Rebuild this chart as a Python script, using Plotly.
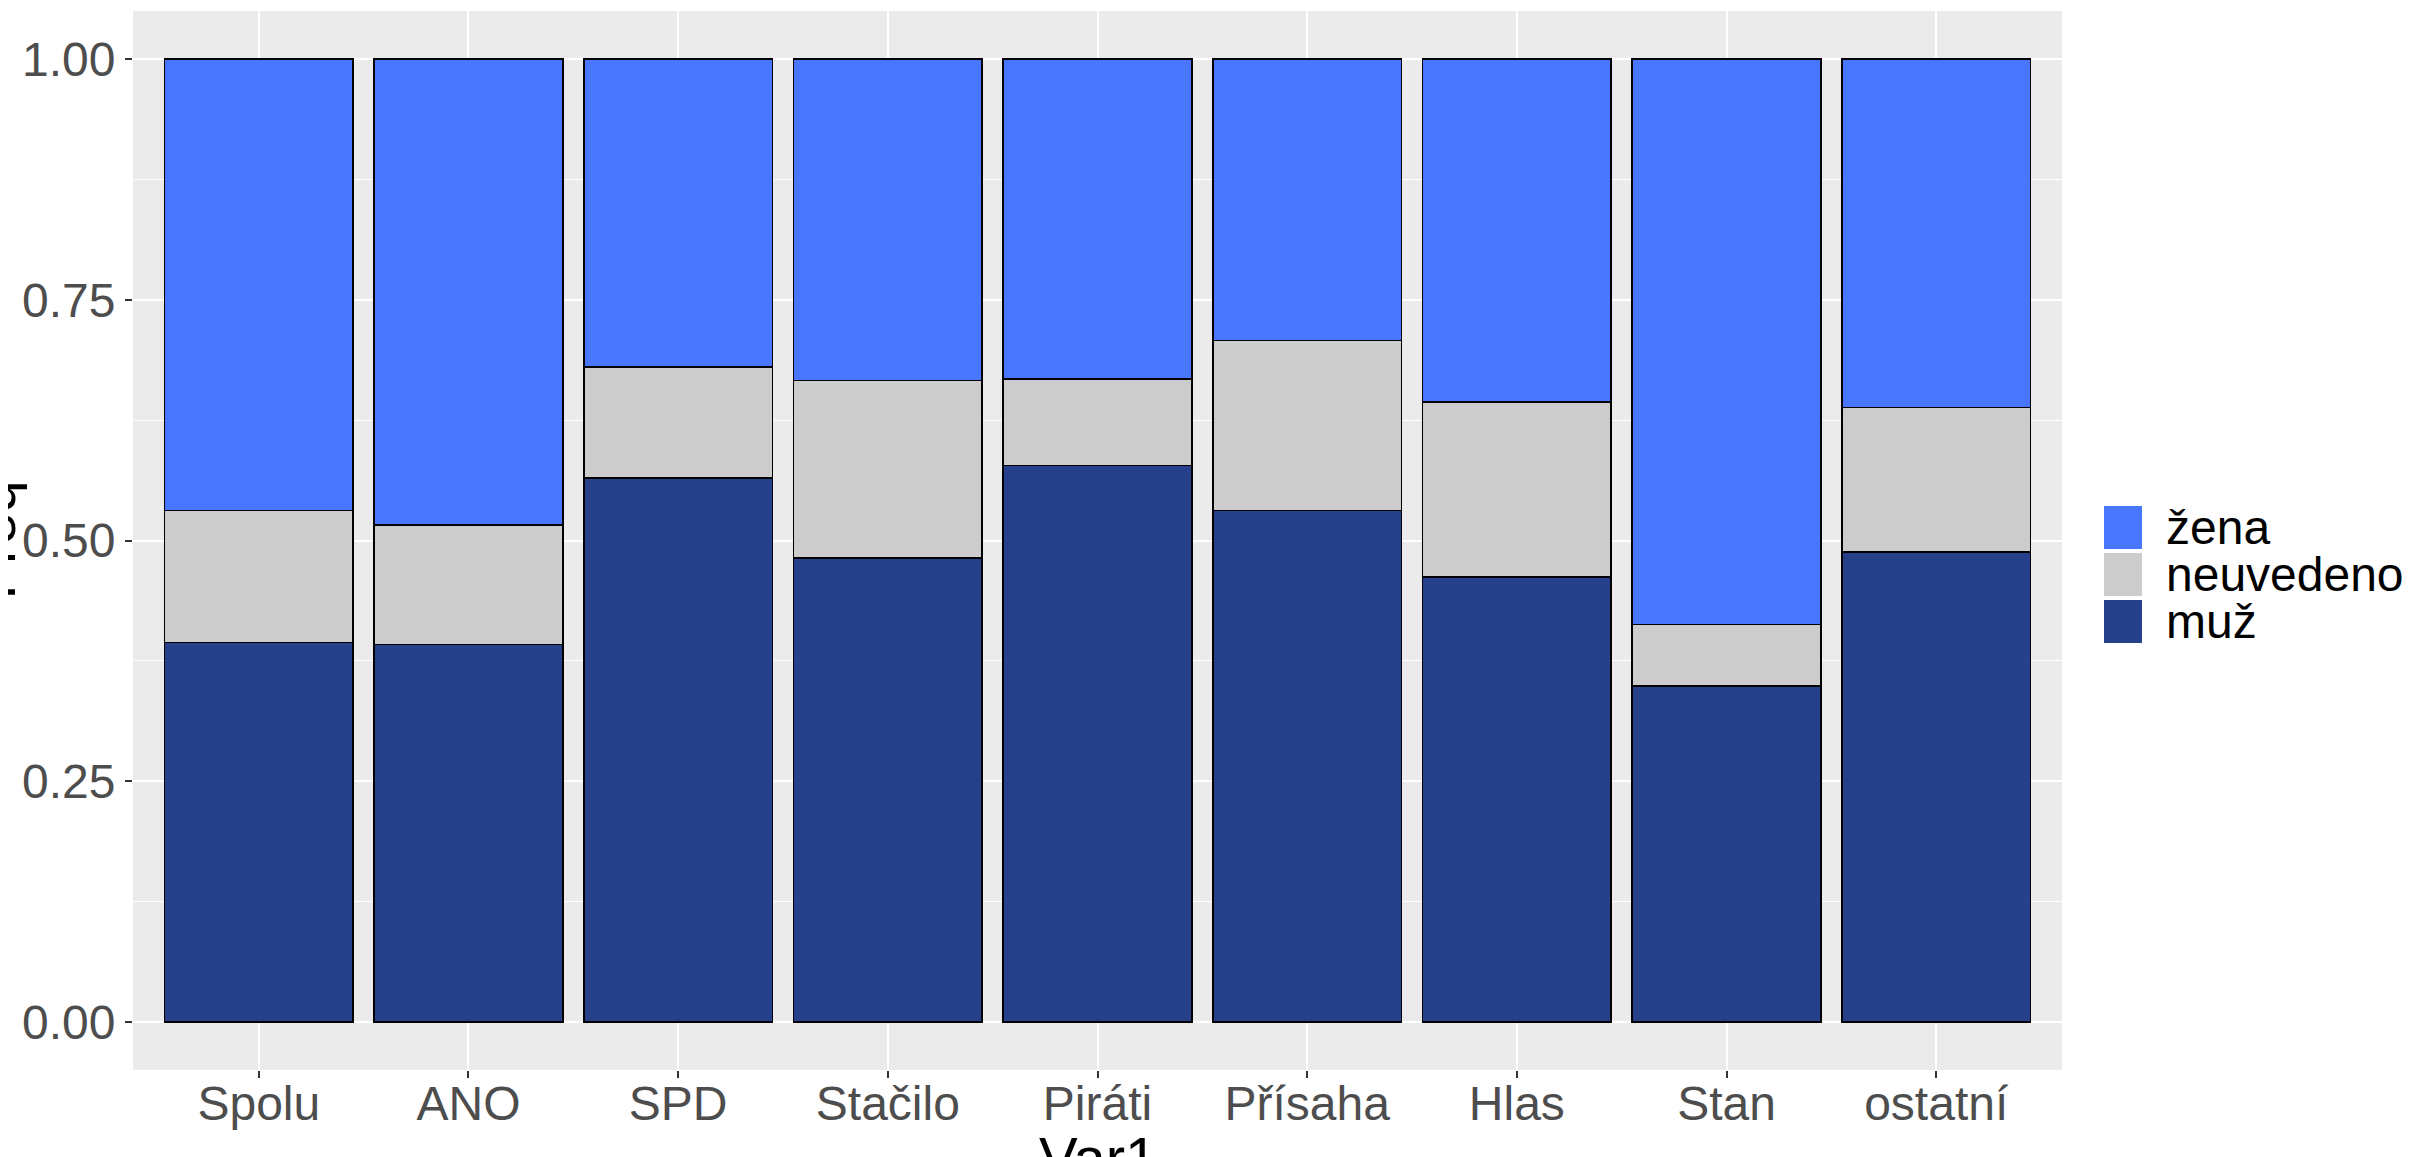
import plotly.graph_objects as go

# ---- data ----
categories = ["Spolu", "ANO", "SPD", "Stačilo", "Piráti", "Přísaha", "Hlas", "Stan", "ostatní"]
muz = [0.394, 0.392, 0.565, 0.482, 0.578, 0.531, 0.462, 0.349, 0.488]
neuvedeno_cum = [0.531, 0.516, 0.680, 0.666, 0.668, 0.708, 0.644, 0.413, 0.638]
neuvedeno = [round(c - m, 3) for c, m in zip(neuvedeno_cum, muz)]
zena = [round(1 - c, 3) for c in neuvedeno_cum]
series_names = ["muž", "neuvedeno", "žena"]
series_colors = {"muž": "#27408B", "neuvedeno": "#CCCCCC", "žena": "#4876FF"}
y_ticks = [0, 0.25, 0.5, 0.75, 1.0]
y_tick_text = ["0.00", "0.25", "0.50", "0.75", "1.00"]

OFF = 8  # default page body margin
W, H = 2414 - OFF, 1157 - OFF
L, R, T, B = 133 - OFF, 2062 - OFF, 11 - OFF, 1070 - OFF
FONT = "Liberation Sans, Arial, sans-serif"

def px_x(px):  # screen px -> paper
    return (px - OFF - L) / (R - L)

def px_y(py):
    return (B - (py - OFF)) / (B - T)

fig = go.Figure()
for name, vals in zip(series_names, [muz, neuvedeno, zena]):
    fig.add_trace(go.Bar(
        x=categories, y=vals, name=name, width=0.9,
        marker=dict(color=series_colors[name], line=dict(color="black", width=1.5)),
        showlegend=False,
    ))

fig.update_layout(
    width=W, height=H,
    margin=dict(l=L, r=W - R, t=T, b=H - B, autoexpand=False),
    barmode="stack",
    plot_bgcolor="#EBEBEB",
    paper_bgcolor="white",
    font=dict(family=FONT, size=48, color="#4D4D4D"),
    bargap=0.1,
)
fig.update_xaxes(
    range=[-0.6, 8.6], automargin=False,
    showgrid=True, gridcolor="white", gridwidth=2.2,
    ticks="outside", ticklen=7, tickwidth=2, tickcolor="#333333",
    ticklabelstandoff=-16,
    tickfont=dict(size=48, color="#4D4D4D", family=FONT),
    zeroline=False, showline=False,
)
fig.update_yaxes(
    range=[-0.05, 1.05], automargin=False,
    tickvals=y_ticks, ticktext=y_tick_text,
    showgrid=True, gridcolor="white", gridwidth=2.2,
    minor=dict(dtick=0.125, tick0=0, showgrid=True, gridcolor="white", gridwidth=1.1, ticklen=0),
    ticks="outside", ticklen=7, tickwidth=2, tickcolor="#333333",
    tickfont=dict(size=48, color="#4D4D4D", family=FONT),
    zeroline=False, showline=False,
)

# axis titles (partially cut off as in reference)
fig.add_annotation(text="Var1", xref="paper", yref="paper", x=0.5, y=0,
                   xanchor="center", yanchor="middle", yshift=-(H - B),
                   showarrow=False, font=dict(size=58, color="black", family=FONT))
fig.add_annotation(text="Freq", xref="paper", yref="paper", x=0, y=0.5,
                   xanchor="center", yanchor="middle", xshift=-(L + 14), textangle=-90,
                   showarrow=False, font=dict(size=58, color="black", family=FONT))

# legend drawn manually (large keys)
legend_order = ["žena", "neuvedeno", "muž"]
row_tops = [506, 553, 600]
for name, top in zip(legend_order, row_tops):
    fig.add_shape(type="rect", xref="paper", yref="paper",
                  x0=px_x(2104), x1=px_x(2142), y0=px_y(top + 43), y1=px_y(top),
                  fillcolor=series_colors[name], line=dict(width=0))
    fig.add_annotation(text=name, xref="paper", yref="paper",
                       x=px_x(2164), y=px_y(top + 21.5), xanchor="left", yanchor="middle",
                       showarrow=False, font=dict(size=48, color="black", family=FONT))

fig.write_html("out.html")
